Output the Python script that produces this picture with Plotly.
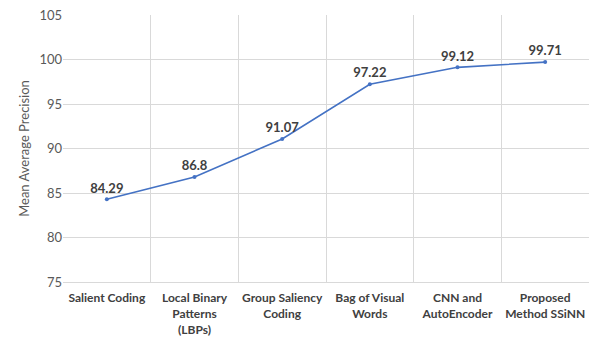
import plotly.graph_objects as go

categories = ["Salient Coding", "Local Binary<br>Patterns<br>(LBPs)", "Group Saliency<br>Coding",
              "Bag of Visual<br>Words", "CNN and<br>AutoEncoder", "Proposed<br>Method SSiNN"]
values = [84.29, 86.8, 91.07, 97.22, 99.12, 99.71]
labels = ["84.29", "86.8", "91.07", "97.22", "99.12", "99.71"]
x_pos = [0.5, 1.5, 2.5, 3.5, 4.5, 5.5]
y_ticks = [75, 80, 85, 90, 95, 100, 105]

FONT = "Lato, Open Sans, sans-serif"

fig = go.Figure(go.Scatter(
    x=x_pos, y=values, mode="lines+markers+text",
    line=dict(color="#4472C4", width=1.6),
    marker=dict(color="#4472C4", size=4),
    text=["<b>%s</b>" % t for t in labels], textposition="top center",
    textfont=dict(family=FONT, size=13, color="#404040"),
    cliponaxis=False,
))

fig.update_layout(
    width=597, height=341,
    margin=dict(l=63, r=8, t=15, b=59),
    paper_bgcolor="white", plot_bgcolor="white",
    showlegend=False,
    font=dict(family=FONT, color="#595959"),
)
fig.update_xaxes(
    range=[0, 6], tickvals=x_pos,
    ticktext=["<b>%s</b>" % c for c in categories],
    tickfont=dict(family=FONT, size=12, color="#404040"),
    showgrid=False, zeroline=False, ticks="",
    ticklabelstandoff=5, automargin=False,
    showline=True, linecolor="#D9D9D9", linewidth=1,
    minor=dict(tickvals=[0, 1, 2, 3, 4, 5, 6], showgrid=True, gridcolor="#D9D9D9", gridwidth=1, ticks=""),
)
fig.update_yaxes(
    range=[75, 105], tickvals=y_ticks,
    tickfont=dict(family=FONT, size=13, color="#595959"),
    showgrid=True, gridcolor="#D9D9D9", gridwidth=1, zeroline=False,
    ticks="", ticklen=0, automargin=False,
    title=dict(text="Mean Average Precision", font=dict(family=FONT, size=13, color="#595959"), standoff=6),
)

fig.write_html("out.html")
